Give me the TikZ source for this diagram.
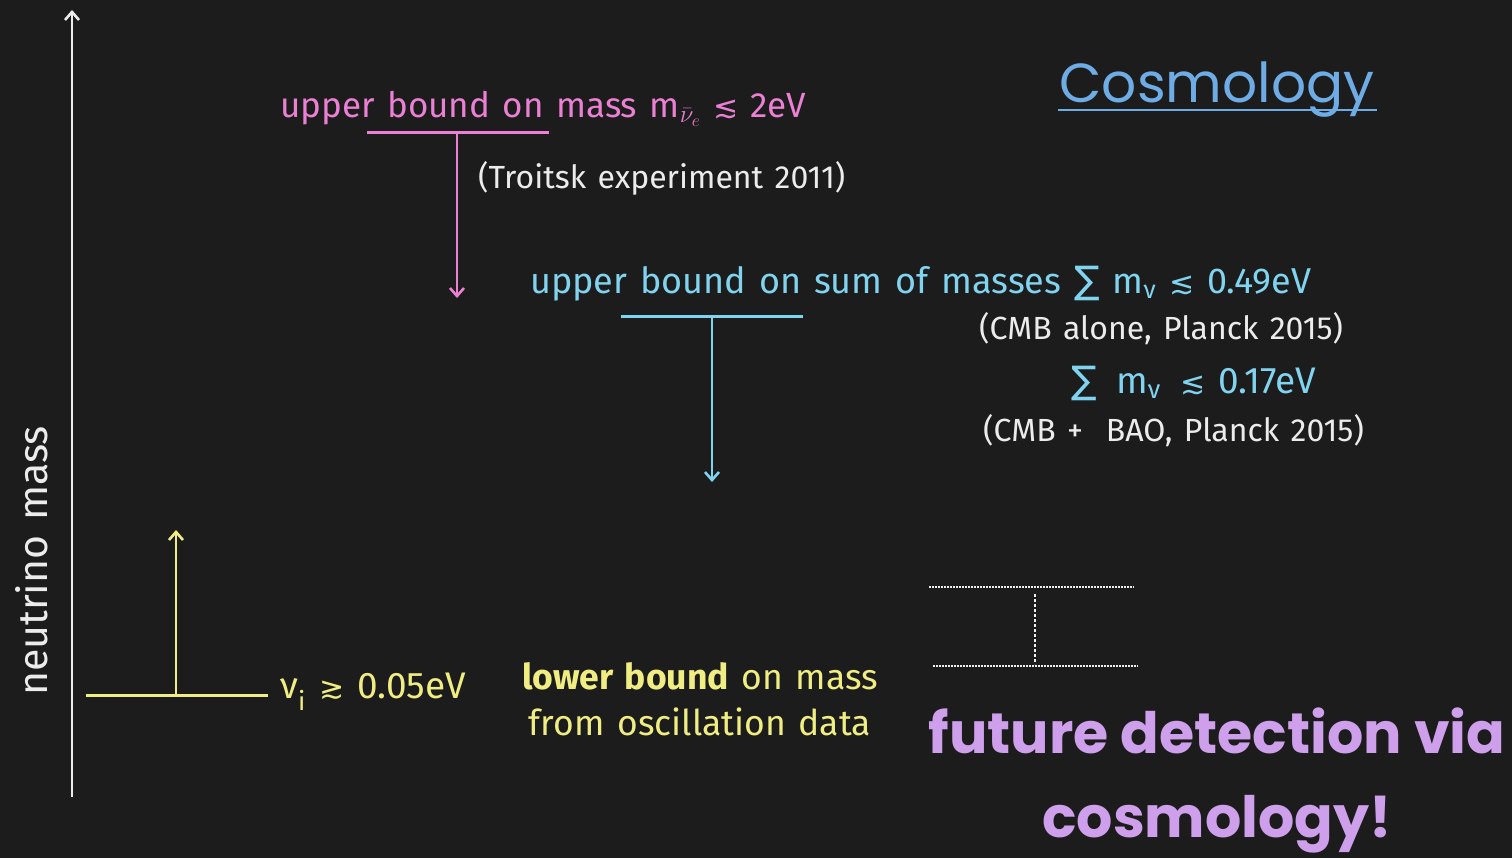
\documentclass[tikz,border=0pt]{standalone}
\usepackage{amssymb}
\usepackage{fontspec}
\setmainfont{Fira Sans}[WordSpace=1.35]
\newfontfamily\headfont{Poppins}
\newfontfamily\symfont{DejaVu Sans}
\usetikzlibrary{arrows.meta}
\definecolor{bg}{RGB}{28,28,28}
\definecolor{cpink}{RGB}{236,128,212}
\definecolor{ccyan}{RGB}{128,212,240}
\definecolor{cblue}{RGB}{110,172,230}
\definecolor{cyel}{RGB}{240,238,130}
\definecolor{cpurp}{RGB}{206,160,236}
\definecolor{cwhite}{RGB}{236,236,236}
\newcommand{\lsim}{{\symfont\fontsize{30}{30}\selectfont ≲}}
\newcommand{\gsim}{{\symfont\fontsize{30}{30}\selectfont ≳}}
\newcommand{\sumsym}{{\symfont\fontsize{38}{38}\selectfont ∑}}
\tikzset{
  chalk/.style={font=\fontsize{35}{40}\selectfont, inner sep=0pt, anchor=west},
  note/.style={font=\fontsize{32}{36}\selectfont, inner sep=0pt, anchor=west, text=cwhite},
  bar/.style={line width=3pt},
  arr/.style={line width=2.6pt, -{Straight Barb[length=8pt,width=14pt,line width=2.6pt]}},
  dots/.style={line width=2pt, densely dotted, cwhite!80},
}
\begin{document}
\begin{tikzpicture}[x=1pt,y=-1pt]
\fill[bg] (0,0) rectangle (1512,858);
\useasboundingbox (0,0) rectangle (1512,858);
% axis
\coordinate (ax0) at (72,797);
\coordinate (ax1) at (72,10);
\draw[arr, cwhite] (ax0) -- (ax1);
\node[rotate=90, inner sep=0pt, text=cwhite, font=\fontsize{41}{46}\selectfont] (axl) at (32,561) {neutrino mass};
% Cosmology heading
\node[inner sep=0pt, text=cblue, font=\headfont\fontsize{55}{60}\selectfont] (cosmo) at (1217,90) {Cosmology};
\draw[cblue, line width=2.4pt] (1058,110) -- (1377,110);
% pink
\node[chalk, text=cpink] (ub1) at (280,109) {upper bound on mass m\(_{\bar\nu_e}\) \lsim\ 2eV};
\coordinate (p1) at (367,133);
\coordinate (p2) at (549,133);
\coordinate (pm) at (457,133);
\coordinate (pe) at (457,298);
\draw[bar, cpink] (p1) -- (p2);
\draw[arr, cpink] (pm) -- (pe);
\node[note] (tro) at (478,178) {(Troitsk experiment 2011)};
% cyan
\node[chalk, text=ccyan, font=\fontsize{36}{40}\selectfont] (ub2) at (530,284) {upper bound on sum of masses \sumsym\ m\textsubscript{ν} \lsim\ 0.49eV};
\coordinate (c1) at (621,317);
\coordinate (c2) at (803,317);
\coordinate (cm) at (712,317);
\coordinate (ce) at (712,482);
\draw[bar, ccyan] (c1) -- (c2);
\draw[arr, ccyan] (cm) -- (ce);
\node[note] (cmb1) at (979,329) {(CMB alone, Planck 2015)};
\node[chalk, text=ccyan, font=\fontsize{37}{40}\selectfont] (ub3) at (1071,383) {\sumsym\ \,m\textsubscript{ν}\, \lsim\ 0.17eV};
\node[note] (cmb2) at (983,431) {(CMB +\ \ BAO, Planck 2015)};
% yellow
\coordinate (y1) at (86,695);
\coordinate (y2) at (268,695);
\coordinate (ym) at (176,695);
\coordinate (ye) at (176,530);
\draw[bar, cyel] (y1) -- (y2);
\draw[arr, cyel] (ym) -- (ye);
\node[chalk, text=cyel, font=\fontsize{37}{40}\selectfont] (lb) at (280,692) {ν\textsubscript{i} \gsim\ 0.05eV};
\node[inner sep=0pt, text=cyel, align=center, font=\fontsize{35.5}{46}\selectfont] (osc) at (700,699) {\textbf{lower bound} on mass\\from oscillation data};
% dotted range
\coordinate (d1) at (929,587);
\coordinate (d2) at (1134,587);
\coordinate (d3) at (933,666);
\coordinate (d4) at (1138,666);
\coordinate (dt) at (1035,594);
\coordinate (db) at (1035,664);
\draw[dots] (d1) -- (d2);
\draw[dots] (d3) -- (d4);
\draw[cwhite!80, line width=1.8pt, dash pattern=on 3pt off 2pt] (dt) -- (db);
% future
\node[inner sep=0pt, text=cpurp, align=center, font=\headfont\bfseries\fontsize{57}{84}\selectfont] (fut) at (1217,781) {future detection via\\cosmology!};
\end{tikzpicture}
\end{document}
